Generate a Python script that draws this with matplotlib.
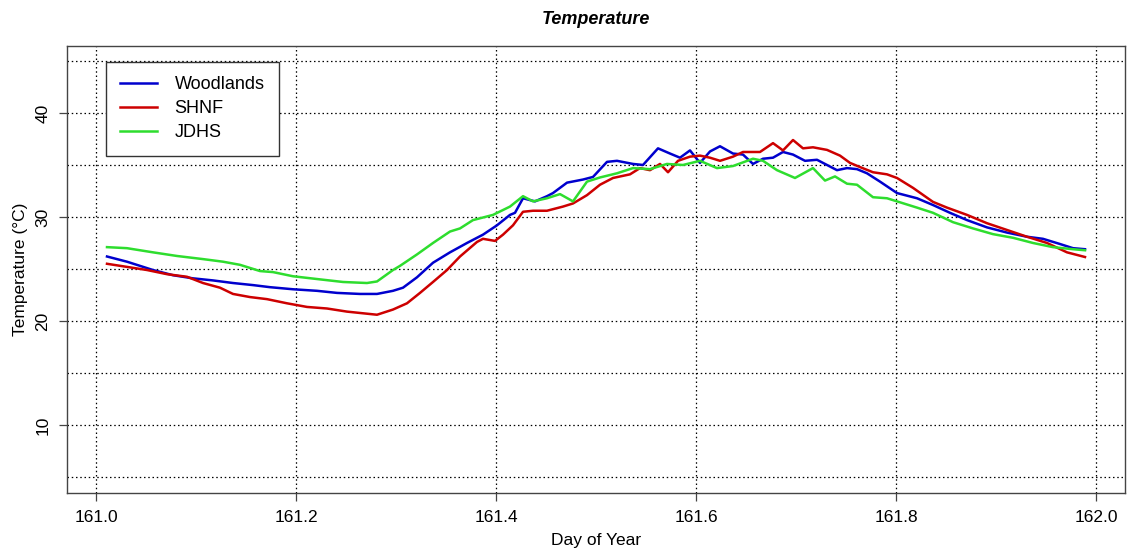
import matplotlib
matplotlib.use("Agg")
import matplotlib.pyplot as plt

plt.rcParams['font.family'] = ['Liberation Sans', 'DejaVu Sans']

# Day-of-year sample times and temperatures (°C) for each site
woodlands_day = [161.011, 161.031, 161.057, 161.077, 161.097, 161.117, 161.137, 161.157,
                 161.174, 161.197, 161.221, 161.241, 161.264, 161.281, 161.297, 161.307,
                 161.321, 161.337, 161.354, 161.371, 161.387, 161.401, 161.414, 161.419,
                 161.427, 161.439, 161.451, 161.457, 161.471, 161.487, 161.497, 161.511,
                 161.521, 161.537, 161.547, 161.562, 161.574, 161.584, 161.594, 161.604,
                 161.614, 161.624, 161.637, 161.647, 161.657, 161.667, 161.677, 161.687,
                 161.697, 161.709, 161.721, 161.731, 161.741, 161.751, 161.761, 161.771,
                 161.784, 161.801, 161.821, 161.837, 161.854, 161.871, 161.891, 161.911,
                 161.931, 161.947, 161.964, 161.977, 161.989]
woodlands_temp = [26.2, 25.7, 24.9, 24.4, 24.1, 23.9, 23.65, 23.45,
                  23.25, 23.05, 22.9, 22.7, 22.6, 22.6, 22.9, 23.2,
                  24.2, 25.6, 26.6, 27.5, 28.3, 29.2, 30.2, 30.4,
                  31.8, 31.5, 32.0, 32.3, 33.3, 33.6, 33.85, 35.3,
                  35.4, 35.1, 35.0, 36.6, 36.1, 35.7, 36.4, 35.2,
                  36.3, 36.8, 36.1, 36.0, 35.1, 35.6, 35.7, 36.25,
                  36.0, 35.4, 35.5, 35.0, 34.5, 34.7, 34.6, 34.2,
                  33.4, 32.3, 31.8, 31.15, 30.4, 29.7, 29.0, 28.5,
                  28.1, 27.9, 27.4, 27.0, 26.9]

shnf_day = [161.011, 161.031, 161.051, 161.071, 161.091, 161.107, 161.124, 161.137,
            161.154, 161.171, 161.191, 161.211, 161.231, 161.251, 161.271, 161.281,
            161.297, 161.311, 161.324, 161.337, 161.351, 161.364, 161.381, 161.387,
            161.399, 161.407, 161.417, 161.427, 161.437, 161.451, 161.467, 161.477,
            161.491, 161.504, 161.517, 161.534, 161.544, 161.554, 161.564, 161.572,
            161.582, 161.594, 161.604, 161.614, 161.624, 161.637, 161.647, 161.664,
            161.677, 161.687, 161.697, 161.707, 161.717, 161.731, 161.744, 161.754,
            161.764, 161.777, 161.791, 161.801, 161.817, 161.837, 161.851, 161.871,
            161.891, 161.911, 161.931, 161.951, 161.971, 161.989]
shnf_temp = [25.5, 25.2, 24.9, 24.5, 24.25, 23.65, 23.2, 22.6,
             22.3, 22.1, 21.7, 21.35, 21.2, 20.9, 20.7, 20.6,
             21.1, 21.7, 22.7, 23.75, 24.9, 26.2, 27.6, 27.9,
             27.7, 28.3, 29.2, 30.5, 30.6, 30.6, 31.0, 31.3,
             32.1, 33.1, 33.75, 34.1, 34.7, 34.5, 35.1, 34.3,
             35.4, 35.8, 35.9, 35.7, 35.4, 35.8, 36.25, 36.25,
             37.1, 36.4, 37.4, 36.6, 36.7, 36.45, 35.9, 35.2,
             34.8, 34.3, 34.1, 33.75, 32.8, 31.45, 30.9, 30.2,
             29.4, 28.75, 28.1, 27.5, 26.6, 26.15]

jdhs_day = [161.011, 161.031, 161.057, 161.081, 161.107, 161.127, 161.144, 161.164,
            161.177, 161.197, 161.224, 161.247, 161.271, 161.281, 161.297, 161.304,
            161.321, 161.337, 161.354, 161.364, 161.377, 161.397, 161.414, 161.427,
            161.437, 161.451, 161.464, 161.477, 161.491, 161.504, 161.521, 161.537,
            161.554, 161.571, 161.587, 161.604, 161.621, 161.637, 161.657, 161.667,
            161.681, 161.699, 161.717, 161.729, 161.739, 161.751, 161.761, 161.777,
            161.791, 161.801, 161.821, 161.837, 161.857, 161.877, 161.897, 161.917,
            161.937, 161.957, 161.977, 161.989]
jdhs_temp = [27.1, 27.0, 26.6, 26.25, 25.95, 25.7, 25.4, 24.8,
             24.7, 24.3, 24.0, 23.75, 23.65, 23.8, 24.9, 25.3,
             26.4, 27.5, 28.6, 28.9, 29.7, 30.2, 31.0, 32.0,
             31.5, 31.8, 32.2, 31.5, 33.4, 33.8, 34.2, 34.7,
             34.6, 35.1, 35.0, 35.4, 34.7, 34.9, 35.6, 35.4,
             34.5, 33.75, 34.7, 33.5, 33.9, 33.2, 33.1, 31.9,
             31.8, 31.5, 30.9, 30.4, 29.5, 28.9, 28.35, 28.0,
             27.5, 27.1, 26.9, 26.8]

series_names = ["Woodlands", "SHNF", "JDHS"]
series_colors = ["#0000CD", "#CD0000", "#2EDD2E"]

x_ticks = [161.0, 161.2, 161.4, 161.6, 161.8, 162.0]
x_tick_labels = ["161.0", "161.2", "161.4", "161.6", "161.8", "162.0"]
y_ticks = [10, 20, 30, 40]
y_grid = [5, 10, 15, 20, 25, 30, 35, 40, 45]

fig = plt.figure(figsize=(11.30, 5.57), dpi=100)
ax = fig.add_axes([67 / 1130, 64 / 557, 1058 / 1130, 447 / 557])

for (d, t), name, col in zip([(woodlands_day, woodlands_temp),
                               (shnf_day, shnf_temp),
                               (jdhs_day, jdhs_temp)],
                              series_names, series_colors):
    ax.plot(d, t, color=col, lw=1.8, label=name, zorder=3)

ax.set_xlim(160.971, 162.029)
ax.set_ylim(3.46, 46.44)

# dotted reference grid
for gx in x_ticks:
    ax.axvline(gx, color="black", lw=0.9, ls=(0, (1.2, 2.2)), zorder=1)
for gy in y_grid:
    ax.axhline(gy, color="black", lw=0.9, ls=(0, (1.2, 2.2)), zorder=1)

ax.set_xticks(x_ticks)
ax.set_xticklabels(x_tick_labels)
ax.set_yticks(y_ticks)
ax.set_yticklabels([str(v) for v in y_ticks], rotation=90, va="center")
ax.tick_params(axis="both", direction="out", length=6, width=0.9,
               color="#444444", labelsize=12.5, pad=6)

for s in ax.spines.values():
    s.set_color("#444444")
    s.set_linewidth(1.0)

ax.set_xlabel("Day of Year", fontsize=12.5, labelpad=6)
ax.set_ylabel("Temperature (°C)", fontsize=12.5, labelpad=5)
ax.set_title("Temperature", fontsize=13, fontweight="bold", fontstyle="italic", pad=16)

leg = ax.legend(loc="upper left", bbox_to_anchor=(39 / 1058, (493 - 62) / 447),
                borderaxespad=0, fontsize=13, frameon=True, fancybox=False,
                handlelength=2.0, handletextpad=1.0, labelspacing=0.38,
                borderpad=0.8)
leg.get_frame().set_edgecolor("#333333")
leg.get_frame().set_linewidth(1.0)
leg.get_frame().set_facecolor("white")
leg.get_frame().set_alpha(1)
leg.set_zorder(5)
for line in leg.get_lines():
    line.set_linewidth(1.8)

fig.savefig("out.png", dpi=100, facecolor="white")
